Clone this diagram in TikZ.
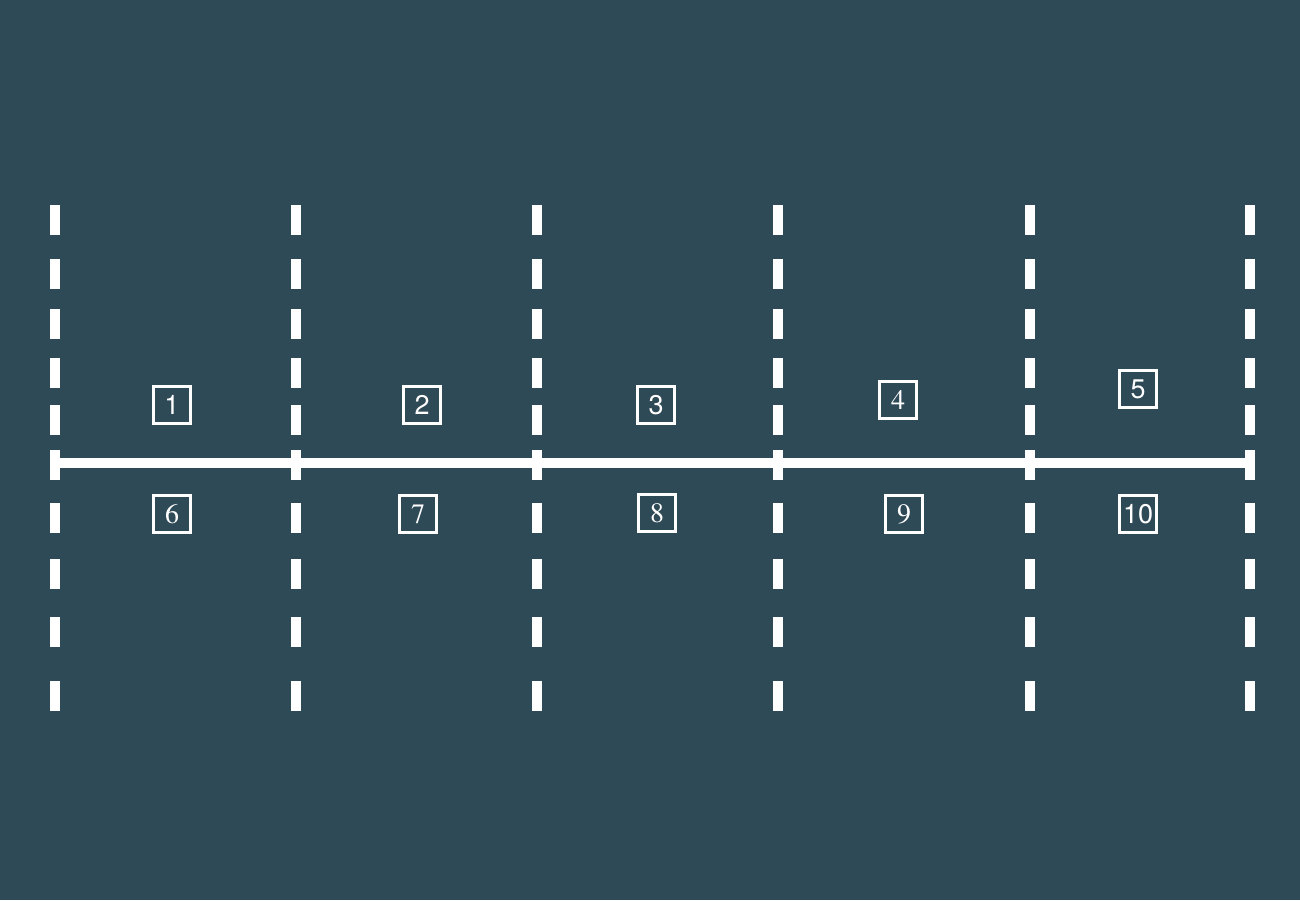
\documentclass[tikz,border=0pt]{standalone}
\usepackage{fontspec}
\setmainfont{TeX Gyre Termes}
\newfontfamily\helvfont{TeX Gyre Heros}
\definecolor{slate}{HTML}{2F4A57}
\tikzset{
    numbox/.style={draw=white,line width=2.6pt,minimum size=37.5pt,inner sep=0pt,text=white},
    serifbox/.style={numbox,font=\rmfamily\fontsize{28}{28}\selectfont},
    sansbox/.style={numbox,font=\helvfont\fontsize{27}{27}\selectfont}
}
\begin{document}
\begin{tikzpicture}[x=1pt,y=-1pt]
        %% background
        \fill[slate] (0,0) rectangle (1300,900);
        %% dashed lanes
        \foreach \x in {55,296,537,778,1030,1250}
            \foreach \y in {205,259,309,358,405,450,503,559,617,681} {
                \fill[white] (\x-5,\y) rectangle ++(10,30);
            }
        %% axis
        \coordinate (a0) at (55,463);
        \coordinate (a5) at (1250,463);
        \draw[white,line width=10pt] (a0) -- (a5);
        %% numbered boxes, top row
        \node[sansbox]  (n1) at (172,405) {1};
        \node[sansbox]  (n2) at (422,405) {2};
        \node[sansbox]  (n3) at (656,405) {3};
        \node[serifbox] (n4) at (898,400) {4};
        \node[sansbox]  (n5) at (1138,389) {5};
        %% numbered boxes, bottom row
        \node[serifbox] (n6) at (172,514) {6};
        \node[serifbox] (n7) at (418,514) {7};
        \node[serifbox] (n8) at (657,513) {8};
        \node[serifbox] (n9) at (904,514) {9};
        \node[sansbox]  (n10) at (1138,514) {10};
    \end{tikzpicture}
\end{document}
